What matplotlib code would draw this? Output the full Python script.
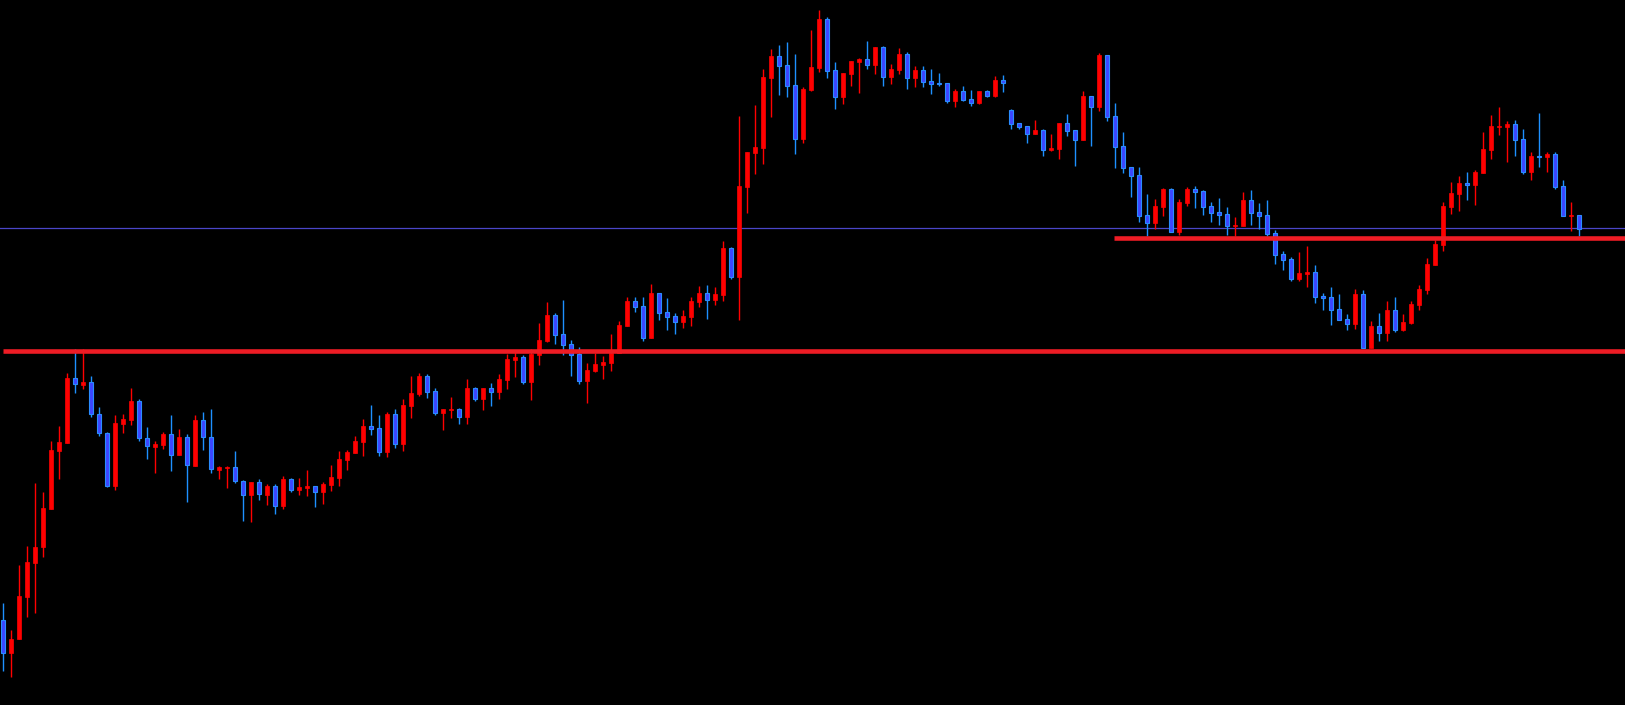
import matplotlib
matplotlib.use("Agg")
import matplotlib.pyplot as plt
import numpy as np

# OHLC values (price units)
opens = [85, 51.7, 65.7, 108.3, 142.3, 157.7, 196.3, 254.3, 261.7, 326.7,
         320.3, 322.7, 290.7, 271.7, 219.3, 281.3, 285.3, 303.7, 266.7, 258.3,
         260.3, 270.7, 250.3, 267.7, 239.3, 284.7, 267.7, 235.3, 237.3, 237.7,
         223.7, 210.3, 222.7, 210.3, 219, 199.3, 226, 215.3, 217.3, 219,
         213.3, 220, 227.3, 245.3, 252, 263.3, 279, 277, 253.3, 291,
         261.3, 299, 311, 329, 314, 292.3, 295.3, 296, 288.3, 317,
         306.3, 317, 313.3, 325.3, 345.3, 348, 323.3, 350.3, 364, 390,
         371, 361, 351, 324.3, 334, 340, 342, 352, 379, 404,
         399, 367, 412, 393, 389, 383, 388, 403, 412, 405,
         410, 457, 428, 518, 552, 557, 627, 649, 640, 620,
         566, 615, 637, 686, 635, 608, 631, 643, 646, 640,
         658, 628, 635, 651, 627.3, 635, 624, 622.3, 622, 604,
         614, 606, 602.3, 614, 609, 625, 595, 582, 579, 571.3,
         575.3, 555, 556, 582, 575, 565.3, 609, 598.3, 650, 589,
         559, 538, 530, 490, 482.3, 498.3, 516, 473.3, 502.3, 516,
         514, 499, 493, 491, 479.3, 479.3, 505, 493, 490, 472,
         451, 446, 426.3, 431.3, 433, 409, 408, 396, 386, 381.3,
         411, 357.3, 379, 372.3, 395, 375.3, 382.3, 400.3, 415.3, 440.3,
         460.3, 498.3, 511.3, 522, 520.3, 532.3, 555.3, 578.3, 578.3, 581,
         566, 533.3, 549, 548.3, 551, 519, 489.3, 490]
highs = [101.7, 75, 140, 159, 221.7, 213, 264, 279, 332.3, 356,
         356, 329, 298, 272.7, 290, 291, 317, 305.7, 278, 264,
         273, 290, 276, 271, 290, 293, 296, 239, 239, 254,
         225, 223, 226, 221.3, 221, 229, 227.3, 227.3, 235, 219.5,
         223, 240, 254, 255, 269, 286, 300, 290, 293, 296,
         306, 329, 332, 331, 317, 296, 308.3, 297.3, 326.3, 318.3,
         317.3, 322, 331, 351, 355, 350, 356, 382.3, 403, 392.3,
         405, 365, 358, 342, 352.3, 349, 371, 384, 408, 408,
         408, 421, 412.5, 407, 392.3, 395, 408, 419, 420, 418,
         464, 458, 589, 553.5, 600, 636, 656, 660, 663, 651,
         618, 675, 695, 688, 643, 632.5, 644.5, 647, 664, 658.5,
         659, 641, 657, 653, 639, 639, 636, 632, 622.5, 616,
         619, 615, 614.5, 615, 629, 630, 596, 582.5, 579.5, 585.3,
         576, 571, 582.5, 591, 575.5, 614, 609.5, 652, 650.5, 602,
         573, 538.5, 538, 511, 506, 517, 517, 506, 518, 519,
         515, 503, 507, 498, 488, 513, 515, 502, 505, 475,
         454, 448, 453, 459, 440, 412, 418, 411, 391, 416,
         415, 384, 392, 404, 408, 391, 404, 420, 447, 465,
         503, 523, 529, 533, 535, 573, 590, 598, 584, 585,
         576, 553, 592, 553, 553, 525, 503, 490.5]
lows = [34.3, 27.7, 65.7, 88.3, 91.7, 148.3, 195.7, 226.3, 261.7, 311.7,
        316.3, 288.3, 269.3, 218.3, 215, 272.3, 280, 264.3, 246.3, 232.3,
        256.3, 234.3, 250.3, 203.3, 239.3, 255.3, 232.3, 226.3, 217.3, 222.3,
        184.3, 183.3, 205.3, 200.3, 191, 196.3, 213, 210.3, 209, 198.3,
        201, 214.3, 219, 235, 252, 249, 270, 249.3, 248, 257,
        254, 287, 309, 307.3, 290.3, 275, 287, 281, 281, 304.3,
        295, 299, 306, 316, 328, 321, 305, 340, 363, 361,
        350.3, 329, 321, 302.3, 333, 326, 334, 352, 379, 393,
        364, 367, 385, 375, 371, 377, 379, 398, 386, 400,
        404, 426, 385, 492, 531, 541, 588, 610, 608, 551,
        562, 614, 633, 627, 596, 601, 619, 612, 636, 631,
        619, 621, 631, 616, 618, 618.3, 611, 619.3, 602.3, 598,
        604.5, 599, 601.3, 608.3, 608.5, 613, 576, 576.3, 562, 571,
        549, 554, 546, 569.3, 539, 565, 559, 594.3, 584.3, 537.3,
        532, 508.3, 483, 469, 476.3, 489.3, 473, 470, 499.3, 497.3,
        490.3, 483.3, 480.3, 470.3, 469.3, 479, 480.3, 476.3, 469.3, 441.3,
        435.3, 424.3, 424.3, 418.3, 402.3, 395.3, 380.3, 385, 375.3, 376.3,
        357, 357, 364.3, 364.3, 373.3, 374.3, 381.3, 395.3, 411.3, 440,
        454.3, 491.3, 494.3, 505.3, 500.3, 532, 546.3, 570.3, 543.3, 549.3,
        531.3, 525.3, 538.3, 533.3, 516.3, 489, 474.3, 469.3]
closes = [51.7, 66, 109, 143, 158, 197, 255, 263, 326.7, 320.7,
          323, 290.7, 271.7, 219.3, 281.7, 286, 304, 266.7, 258.7, 261,
          271, 250.3, 268, 239.7, 285, 267.7, 235.7, 238, 238, 223.7,
          210.3, 223, 210.7, 219, 199.3, 226, 215.3, 218, 219, 213.3,
          221, 228, 246, 253, 264, 279, 276.3, 253.3, 291, 261.3,
          300, 312, 329, 313.3, 292.3, 296, 296, 288.3, 317, 306.3,
          317, 313.3, 326, 346, 348, 323.3, 351, 365, 390, 370.3,
          360.3, 350.3, 324.3, 335, 341, 343, 352, 380, 404, 398.3,
          367, 412, 392.3, 388.3, 383.3, 389, 404, 412, 405, 411,
          457, 428, 519, 553, 558, 628, 649, 639, 619, 566,
          616, 638, 686, 634.3, 608, 632, 644, 646, 640, 658,
          628.3, 636, 651, 627.3, 635, 623.3, 621.3, 621.3, 604.3, 614,
          605, 602.3, 614, 609.3, 625, 622.3, 581.3, 578.3, 571.3, 575.3,
          555.3, 557.3, 582, 574.3, 565.3, 609, 598.3, 650, 588.3, 558.3,
          537.3, 529.3, 489.3, 482.3, 499, 516, 473.3, 503, 516, 513.3,
          498.3, 492.3, 490.3, 479.3, 480, 505, 492.3, 489.3, 471.3, 450.3,
          445.3, 426.3, 432, 433, 408.3, 407.3, 395.3, 385.3, 381.3, 411,
          357.3, 379, 372.3, 395, 375.3, 383, 401, 416, 441, 461,
          499, 512, 522, 520.3, 533, 556, 579, 579.3, 581.3, 565.3,
          533.3, 549, 548.3, 551, 518.3, 489.3, 490, 476.3]

# horizontal levels
support_level = 354.5
resistance_level = 466.7
current_level = 476.7

UP = "#ff0000"
DOWN_FILL = "#3c46ff"
DOWN_EDGE = "#2a8cff"
DOWN_WICK = "#1e90ff"
LEVEL_RED = "#ee1c25"
LEVEL_BLUE = "#4a46c8"

W, H = 1625, 705
fig = plt.figure(figsize=(W / 100, H / 100), dpi=100, facecolor="black")
ax = fig.add_axes([0, 0, 1, 1])
ax.set_facecolor("black")

o = np.array(opens); h = np.array(highs); l = np.array(lows); c = np.array(closes)
x = np.arange(len(o))
up = c >= o

ax.axhline(current_level, color=LEVEL_BLUE, lw=0.9, zorder=1)

ax.vlines(x[up], l[up], h[up], color=UP, lw=1.0, zorder=2)
ax.vlines(x[~up], l[~up], h[~up], color=DOWN_WICK, lw=1.0, zorder=2)

bottoms = np.minimum(o, c)
heights = np.maximum(np.abs(c - o), 0.9)
ax.bar(x[up], heights[up], bottom=bottoms[up], width=0.5, color=UP,
       edgecolor=UP, linewidth=0.5, zorder=3)
ax.bar(x[~up], heights[~up], bottom=bottoms[~up], width=0.5, color=DOWN_FILL,
       edgecolor=DOWN_EDGE, linewidth=0.8, zorder=3)

xmax = (W - 3.3) / 8
ax.hlines(support_level, -0.05, xmax + 1, color=LEVEL_RED, lw=3.3, zorder=4)
ax.hlines(resistance_level, 138.8, xmax + 1, color=LEVEL_RED, lw=3.3, zorder=4)

ax.set_xlim(-3.3 / 8, xmax)
ax.set_ylim(0, H)
ax.axis("off")

fig.savefig("out.png", dpi=100, facecolor="black")
